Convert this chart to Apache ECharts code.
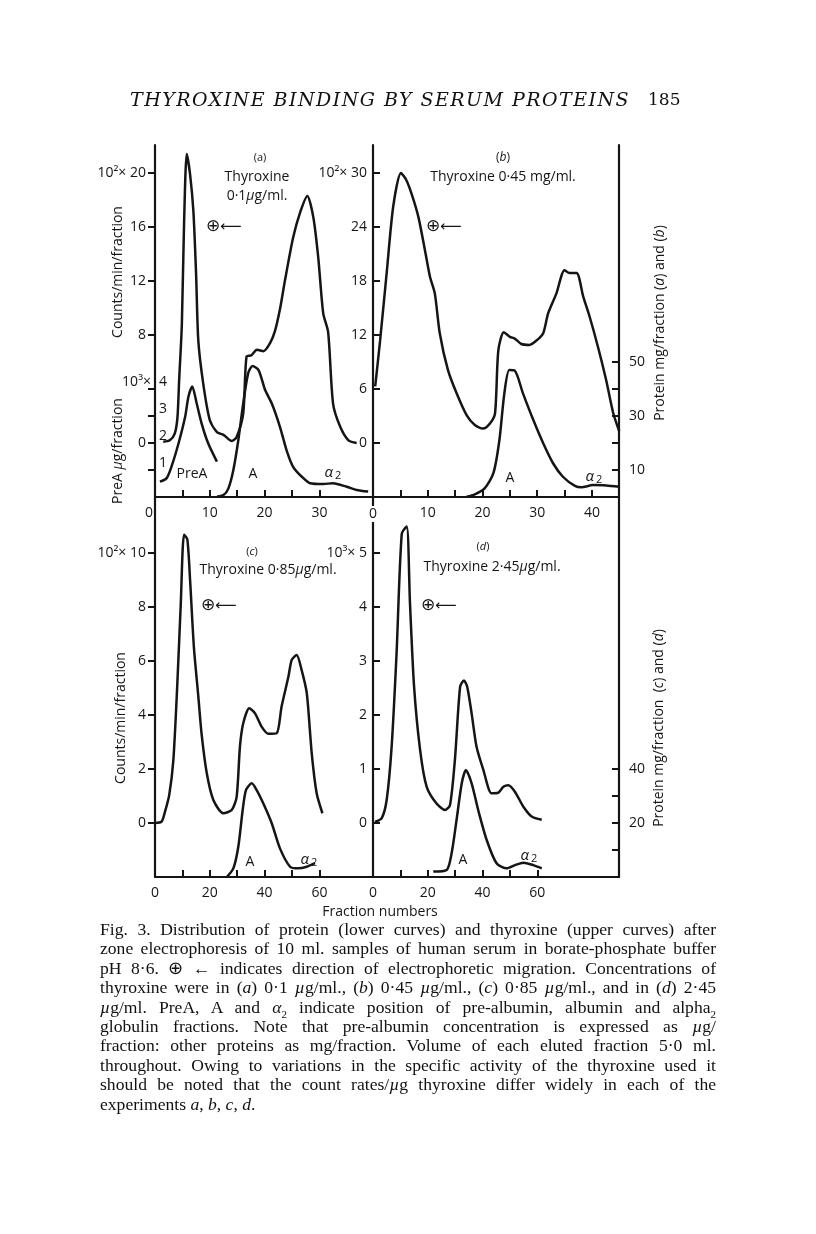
<!DOCTYPE html>
<html><head><meta charset="utf-8">
<script src="https://cdn.jsdelivr.net/npm/echarts@6/dist/echarts.min.js"></script>
<style>
html,body{margin:0;padding:0;background:#fff;}
#chart{position:absolute;left:0;top:0;width:816px;height:1234px;}
.ov{position:absolute;z-index:2;color:#111;}
#header{top:88px;left:130px;font-family:"DejaVu Serif",serif;font-style:italic;font-size:19px;white-space:nowrap;}
#pageno{top:89px;left:648px;font-family:"DejaVu Serif",serif;font-size:17px;}
#caption{left:100px;top:920px;width:616px;font-family:"Liberation Serif",serif;font-size:17.6px;line-height:19.4px;}
#caption div{white-space:nowrap;height:19.4px;}
#caption span.ln{display:inline-block;}
</style></head>
<body>
<div id="chart"></div>
<div id="header" class="ov">THYROXINE BINDING BY SERUM PROTEINS</div>
<div id="pageno" class="ov">185</div>
<div id="caption" class="ov">
<div class="j"><span class="ln">Fig. 3. Distribution of protein (lower curves) and thyroxine (upper curves) after</span></div>
<div class="j"><span class="ln">zone electrophoresis of 10 ml. samples of human serum in borate-phosphate buffer</span></div>
<div class="j"><span class="ln">pH 8·6. ⊕ ← indicates direction of electrophoretic migration. Concentrations of</span></div>
<div class="j"><span class="ln">thyroxine were in (<i>a</i>) 0·1 <i>µ</i>g/ml., (<i>b</i>) 0·45 <i>µ</i>g/ml., (<i>c</i>) 0·85 <i>µ</i>g/ml., and in (<i>d</i>) 2·45</span></div>
<div class="j"><span class="ln"><i>µ</i>g/ml. PreA, A and <i>α</i><sub style="font-size:11px">2</sub> indicate position of pre-albumin, albumin and alpha<sub style="font-size:11px">2</sub></span></div>
<div class="j"><span class="ln">globulin fractions. Note that pre-albumin concentration is expressed as <i>µ</i>g/</span></div>
<div class="j"><span class="ln">fraction: other proteins as mg/fraction. Volume of each eluted fraction 5·0 ml.</span></div>
<div class="j"><span class="ln">throughout. Owing to variations in the specific activity of the thyroxine used it</span></div>
<div class="j"><span class="ln">should be noted that the count rates/<i>µ</i>g thyroxine differ widely in each of the</span></div>
<div><span class="ln">experiments <i>a</i>, <i>b</i>, <i>c</i>, <i>d</i>.</span></div>
</div>
<script>
// ---------- DATA (fraction number, value) ----------
// (a) thyroxine 0.1 µg/ml : counts/min/fraction (x10^2)
const countsA = [[1.5,0.1],[2.7,0.2],[3.6,0.7],[4.1,1.9],[4.4,4.6],[4.9,8.8],[5.3,16.2],[5.8,21.4],[6.4,19.9],[7.0,17.2],[7.5,12.5],[7.9,7.6],[8.8,4.4],[10.0,1.7],[11.3,0.8],[12.5,0.6],[14.0,0.15],[14.9,0.45],[16.1,2.2],[16.7,6.4],[17.6,6.5],[18.6,6.9],[19.8,6.8],[21.0,7.4],[21.9,8.3],[22.8,9.9],[23.7,12.0],[25.2,15.2],[26.5,17.1],[27.8,18.3],[28.9,16.7],[29.8,13.7],[30.7,9.6],[31.6,8.2],[32.5,2.9],[33.8,1.2],[35.3,0.2],[36.8,0.0]];
// (a) pre-albumin, µg/fraction (x10^3)
const preAlbA = [[0.9,0.57],[2.1,0.69],[3.0,1.12],[4.3,1.99],[5.5,2.97],[6.1,3.71],[6.8,4.09],[7.6,3.47],[8.5,2.73],[9.7,1.99],[11.3,1.31]];
// (a) protein mg/fraction
const protA = [[11.3,0.1],[12.5,0.7],[13.4,3.2],[14.3,10],[15.2,21],[16.1,34.7],[17.0,45.8],[17.8,48.5],[18.9,47],[20.1,39.6],[21.3,34.7],[22.8,26],[24.0,17.4],[25.2,11.2],[26.8,7.5],[28.3,5.1],[30.7,4.8],[32.5,5.1],[35.0,3.8],[36.8,2.6],[38.9,2.0]];
// (b) thyroxine 0.45 : counts (x10^2)
const countsB = [[0.4,6.3],[1.3,11.4],[2.5,18.9],[3.7,26.3],[5.1,30.0],[6.1,29.2],[7.1,27.6],[8.3,25.1],[9.5,21.4],[10.4,18.5],[11.3,16.6],[12.2,12.2],[13.7,8.1],[15.3,5.5],[17.1,3.1],[18.6,2.0],[20.1,1.6],[21.4,2.2],[22.3,3.3],[22.9,10.3],[23.9,12.3],[25.0,11.8],[25.9,11.6],[27.1,11.0],[28.6,10.9],[29.9,11.4],[31.1,12.2],[32.0,14.4],[33.5,16.6],[35.0,19.2],[35.9,18.9],[37.2,18.9],[38.4,16.3],[39.6,14.0],[41.1,10.7],[42.6,7.0],[43.9,3.3],[45.0,1.3]];
const protB = [[17.1,0.1],[18.6,1.0],[20.4,3.2],[22.0,8.8],[23.1,21.1],[24.0,38.4],[24.9,47],[25.9,46.8],[27.4,38.4],[29.3,28.5],[31.1,19.9],[32.9,12.5],[34.7,7.5],[36.9,4.1],[38.1,3.6],[40.2,4.4],[42.6,4.3],[45.0,3.8]];
// (c) thyroxine 0.85 : counts (x10^2)
const countsC = [[0,0],[2.4,0.05],[3.6,0.4],[5.2,1.04],[6.7,2.33],[8.1,5.05],[9.4,8.1],[10.6,10.67],[11.8,10.5],[12.8,9.0],[14.2,6.5],[15.8,4.7],[17.0,3.3],[18.9,1.84],[21.3,0.85],[24.9,0.36],[28.0,0.48],[29.8,0.97],[31.0,2.83],[32.2,3.69],[34.4,4.25],[36.5,4.06],[38.9,3.57],[41.4,3.30],[44.4,3.32],[46.2,4.31],[48.7,5.42],[49.9,6.04],[51.7,6.22],[53.5,5.67],[55.4,4.8],[57.2,2.58],[59.0,1.1],[61.1,0.36]];
const protC = [[26.2,0],[28.6,3.2],[30.4,11.2],[32.0,24.8],[33.2,32.2],[35.3,34.7],[37.1,32.2],[39.5,27.3],[42.6,19.9],[45.6,10.6],[49.3,3.8],[52.3,3.2],[55.4,3.8],[58.4,5.1]];
// (d) thyroxine 2.45 : counts (x10^3)
const countsD = [[0.7,0.02],[3.2,0.09],[5.0,0.43],[6.8,1.41],[8.6,3.14],[10.5,5.36],[12.3,5.49],[13.5,4.07],[15.0,2.52],[17.2,1.35],[19.6,0.67],[23.2,0.36],[26.3,0.24],[28.1,0.33],[29.9,1.17],[31.8,2.52],[33.2,2.64],[34.4,2.52],[36.0,2.03],[37.8,1.41],[40.3,0.98],[43.3,0.55],[45.7,0.56],[47.6,0.67],[49.4,0.70],[51.8,0.58],[54.9,0.30],[57.9,0.12],[61.6,0.06]];
const protD = [[22.0,2.0],[26.9,2.6],[28.7,8.8],[30.5,21.1],[32.4,34.7],[33.9,39.6],[36.0,34.7],[38.4,24.8],[41.5,13.7],[45.1,5.1],[48.8,3.2],[51.8,4.4],[54.9,5.3],[58.5,4.4],[61.6,3.2]];

// ---------- TICKS / LABELS ----------
const xTicksTop = [5,10,15,20,25,30];
const xTicksB = [5,10,15,20,25,30,35,40];
const xLabelsA = [0,10,20,30];
const xLabelsB = [0,10,20,30,40];
const xTicksBottom = [10,20,30,40,50,60];
const xLabelsBottom = [0,20,40,60];
const yTicksA = [0,4,8,12,16,20];
const yLabelsA = [0,8,12,16,20];
const yTicksPreA = [1,2,3,4];
const yTicksB = [0,6,12,18,24,30];
const protTicksAB = [10,20,30,40,50];
const protLabelsAB = [10,30,50];
const yTicksC = [0,2,4,6,8,10];
const yTicksD = [0,1,2,3,4,5];
const protTicksCD = [10,20,30,40];
const protLabelsCD = [20,40];

const FONT = '"Open Sans", "DejaVu Sans", sans-serif';
const INK = '#151515';

function xAx(grid, max, ticks, labels, fmt, z) {
  return {type:'value', gridIndex:grid, min:0, max:max, z: z||2,
    splitLine:{show:false},
    axisLine:{show:true, onZero:false, lineStyle:{color:INK, width:2.2}},
    axisTick:{show:true, inside:true, length:7, lineStyle:{color:INK, width:2}, customValues:ticks},
    axisLabel:{show:true, customValues:labels, margin:9, color:INK, fontSize:14, fontFamily:FONT,
      formatter: fmt || (v => String(v)),
      rich:{w:{backgroundColor:'#fff', color:INK, fontSize:14, fontFamily:FONT, padding:[1,1,1,1]},
            l:{color:INK, fontSize:14, fontFamily:FONT, padding:[0,12,0,0]}}}
  };
}
function yAx(grid, pos, min, max, o) {
  o = o || {};
  return {type:'value', gridIndex:grid, position:pos, min:min, max:max, show: o.show !== false,
    splitLine:{show:false},
    axisLine:{show: !!o.line, onZero:false, lineStyle:{color:INK, width:2.2}},
    axisTick:{show: !!o.ticks, inside: !!o.tickInside, length:7, lineStyle:{color:INK, width:2}, customValues:o.ticks || []},
    axisLabel:{show: !!o.labels, inside: !!o.labelInside, customValues:o.labels || [], margin: o.margin || 9,
      color:INK, fontSize:14, fontFamily:FONT, verticalAlign: o.va || 'middle',
      formatter: o.fmt || (v => String(v))}
  };
}

const grids = [
  {left:155, top:145, width:217, height:352},
  {left:373, top:145, width:246, height:352},
  {left:155, top:497, width:218, height:380},
  {left:373, top:497, width:246, height:380}
];

const xAxes = [
  xAx(0, 39.6, xTicksTop, xLabelsA, v => v === 0 ? '{l|0}' : String(v)),
  xAx(1, 44.95, xTicksB, xLabelsB, v => v === 0 ? '{w|0}' : String(v), 6),
  xAx(2, 79.56, xTicksBottom, xLabelsBottom),
  xAx(3, 89.8, xTicksBottom, xLabelsBottom)
];

const yAxes = [
  yAx(0,'left',-4,22.07,{line:true, ticks:yTicksA, labels:yLabelsA, fmt:v => v===20 ? '10²× 20' : String(v)}),
  yAx(0,'left',0,13.037,{ticks:yTicksPreA, labels:yTicksPreA, labelInside:true, va:'bottom', margin:4}),
  yAx(0,'left',0,13.037,{labels:[4], va:'bottom', margin:4, fmt:() => '10³×'}),
  yAx(0,'left',0,130.37,{show:false}),
  yAx(1,'left',-6,33.11,{line:true, ticks:yTicksB, tickInside:true, labels:yTicksB, margin:6, fmt:v => v===30 ? '10²× 30' : String(v)}),
  yAx(1,'right',0,130.37,{line:true, ticks:protTicksAB, tickInside:true, labels:protLabelsAB, margin:10}),
  yAx(2,'left',-2,12.07,{line:true, ticks:yTicksC, labels:yTicksC, fmt:v => v===10 ? '10²× 10' : String(v)}),
  yAx(2,'left',0,140.74,{show:false}),
  yAx(3,'left',-1,6.037,{line:true, ticks:yTicksD, tickInside:true, labels:yTicksD, margin:6, fmt:v => v===5 ? '10³× 5' : String(v)}),
  yAx(3,'right',0,140.74,{line:true, ticks:protTicksCD, tickInside:true, labels:protLabelsCD, margin:10})
];

function curve(data, xi, yi) {
  return {type:'line', data:data, xAxisIndex:xi, yAxisIndex:yi, symbol:'none', smooth:0.25,
    lineStyle:{color:INK, width:2.5}, silent:true, z:3};
}
const series = [
  curve(countsA,0,0), curve(preAlbA,0,1), curve(protA,0,3),
  curve(countsB,1,4), curve(protB,1,5),
  curve(countsC,2,6), curve(protC,2,7),
  curve(countsD,3,8), curve(protD,3,9)
];

function T(x, y, text, size, extra) {
  const st = Object.assign({text:text, fill:INK, fontSize:size||14, fontFamily:FONT, align:'center', verticalAlign:'middle',
    rich:{i:{fontStyle:'italic', fontSize:size||14, fontFamily:FONT, fill:INK},
          s:{fontSize:11, fontFamily:FONT, fill:INK, padding:[6,0,0,2]}}}, extra||{});
  return {type:'text', x:x, y:y, style:st, z:10};
}
function R(x, y, text, size) {
  const g = T(x, y, text, size);
  g.rotation = Math.PI/2;
  return g;
}
function plusArrow(x, y) {
  return [
    {type:'text', x:x, y:y, z:10, style:{text:'⊕', fill:INK, fontSize:17, fontFamily:'"DejaVu Sans"', align:'left', verticalAlign:'middle'}},
    {type:'text', x:x+14, y:y, z:10, style:{text:'⟵', fill:INK, fontSize:15, fontFamily:'"DejaVu Sans"', align:'left', verticalAlign:'middle'}}
  ];
}
const alpha2 = '{i|α}{s|2}';
const graphic = [
  // panel (a)
  T(260,158,'(a)',11), T(257,177,'Thyroxine',14), T(257,196,'0·1{i|µ}g/ml.',14),
  ...plusArrow(206,227),
  T(192,474,'PreA',14), T(253,474,'A',14), T(333,473,alpha2,15),
  // panel (b)
  T(503,158,'({i|b})',12), T(503,177,'Thyroxine 0·45 mg/ml.',14),
  ...plusArrow(426,227),
  T(510,478,'A',14), T(594,477,alpha2,15),
  // panel (c)
  T(252,552,'({i|c})',11), T(268,570,'Thyroxine 0·85{i|µ}g/ml.',14),
  ...plusArrow(201,606),
  T(250,862,'A',14), T(309,860,alpha2,15),
  // panel (d)
  T(483,547,'({i|d})',11), T(492,567,'Thyroxine 2·45{i|µ}g/ml.',14),
  ...plusArrow(421,606),
  T(463,860,'A',14), T(529,856,alpha2,15),
  // axis titles
  R(118,272,'Counts/min/fraction',14),
  R(118,451,'PreA {i|µ}g/fraction',14),
  R(121,718,'Counts/min/fraction',14),
  R(660,323,'Protein mg/fraction ({i|a}) and ({i|b})',14),
  R(659,728,'Protein mg/fraction  ({i|c}) and ({i|d})',14),
  T(380,912,'Fraction numbers',14)
];

const chart = echarts.init(document.getElementById('chart'), null, {renderer:'canvas'});
chart.setOption({
  animation:false,
  backgroundColor:'#fff',
  textStyle:{fontFamily:FONT},
  grid:grids,
  xAxis:xAxes,
  yAxis:yAxes,
  series:series,
  graphic:graphic
});

// justify caption lines to 616px by word spacing; fit header width to 500px
function fitText() {
  document.querySelectorAll('#caption div.j span.ln').forEach(function(sp){
    const w = sp.getBoundingClientRect().width;
    const spaces = (sp.textContent.match(/ /g) || []).length;
    if (spaces > 0) sp.style.wordSpacing = ((616 - w) / spaces) + 'px';
  });
  const h = document.getElementById('header');
  const hw = h.getBoundingClientRect().width;
  const n = h.textContent.length;
  h.style.letterSpacing = ((500 - hw) / n) + 'px';
}
fitText();
</script>
</body></html>
